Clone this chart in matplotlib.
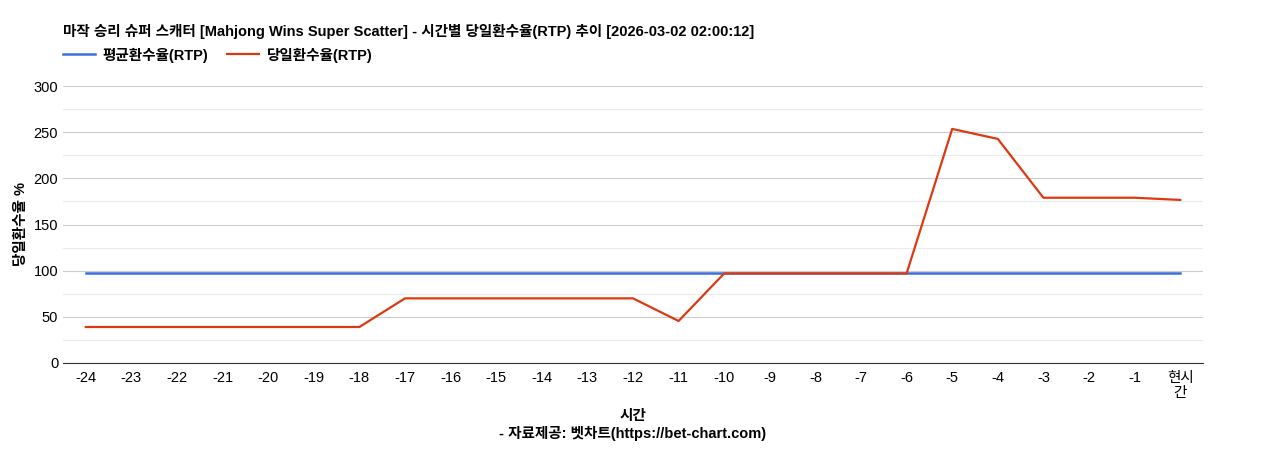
import matplotlib
matplotlib.use("Agg")
import matplotlib.pyplot as plt

plt.rcParams['font.family'] = ['Liberation Sans', 'Noto Sans CJK KR', 'DejaVu Sans']

categories = [str(i) for i in range(-24, 0)] + ['현시\n간']
avg_rtp = [97] * 25
day_rtp = [39, 39, 39, 39, 39, 39, 39, 70, 70, 70, 70, 70, 70, 45.5, 97, 97, 97, 97, 97, 253.5, 242.7, 179, 179, 179, 176.6]

fig = plt.figure(figsize=(12.68, 4.5), dpi=100)
ax = fig.add_axes([63/1268, 1-363/450, 1140/1268, 277/450])
x = list(range(len(categories)))
ax.plot(x, avg_rtp, color='#3c6fd8', lw=1.8, label='평균환수율(RTP)')
ax.plot(x, day_rtp, color='#dc3912', lw=1.6, label='당일환수율(RTP)')
ax.set_xlim(-0.5, len(categories) - 0.5)
ax.set_ylim(0, 300)
ax.set_yticks(range(0, 301, 50))
ax.set_yticks(range(25, 300, 50), minor=True)
ax.grid(axis='y', which='major', color='#cccccc', lw=0.8)
ax.grid(axis='y', which='minor', color='#ebebeb', lw=0.8)
ax.set_axisbelow(True)
ax.set_xticks(x)
ax.set_xticklabels(categories, fontsize=10.5, linespacing=1.1)
ax.tick_params(axis='y', which='both', labelsize=10.5, length=0)
ax.tick_params(axis='x', length=0, pad=6)
for s in ['top', 'right', 'left']:
    ax.spines[s].set_visible(False)
ax.spines['bottom'].set_color('#333333')
ax.set_ylabel('당일환수율 %', fontsize=10.5, fontweight='bold')
ax.set_xlabel('시간\n- 자료제공: 벳차트(https://bet-chart.com)', fontsize=10.5, fontweight='bold', labelpad=6, linespacing=1.3)
fig.text(63/1268, 1-31/450, '마작 승리 슈퍼 스캐터 [Mahjong Wins Super Scatter] - 시간별 당일환수율(RTP) 추이 [2026-03-02 02:00:12]',
         fontsize=10.5, fontweight='bold', va='center')
ax.legend(loc='center left', bbox_to_anchor=(0.0, 1 + 31/277), ncol=2, frameon=False,
          prop={'weight': 'bold', 'size': 10.5}, handlelength=2.2, handletextpad=0.5,
          columnspacing=1.3, borderaxespad=0, borderpad=0)
fig.savefig('out.png', dpi=100)
